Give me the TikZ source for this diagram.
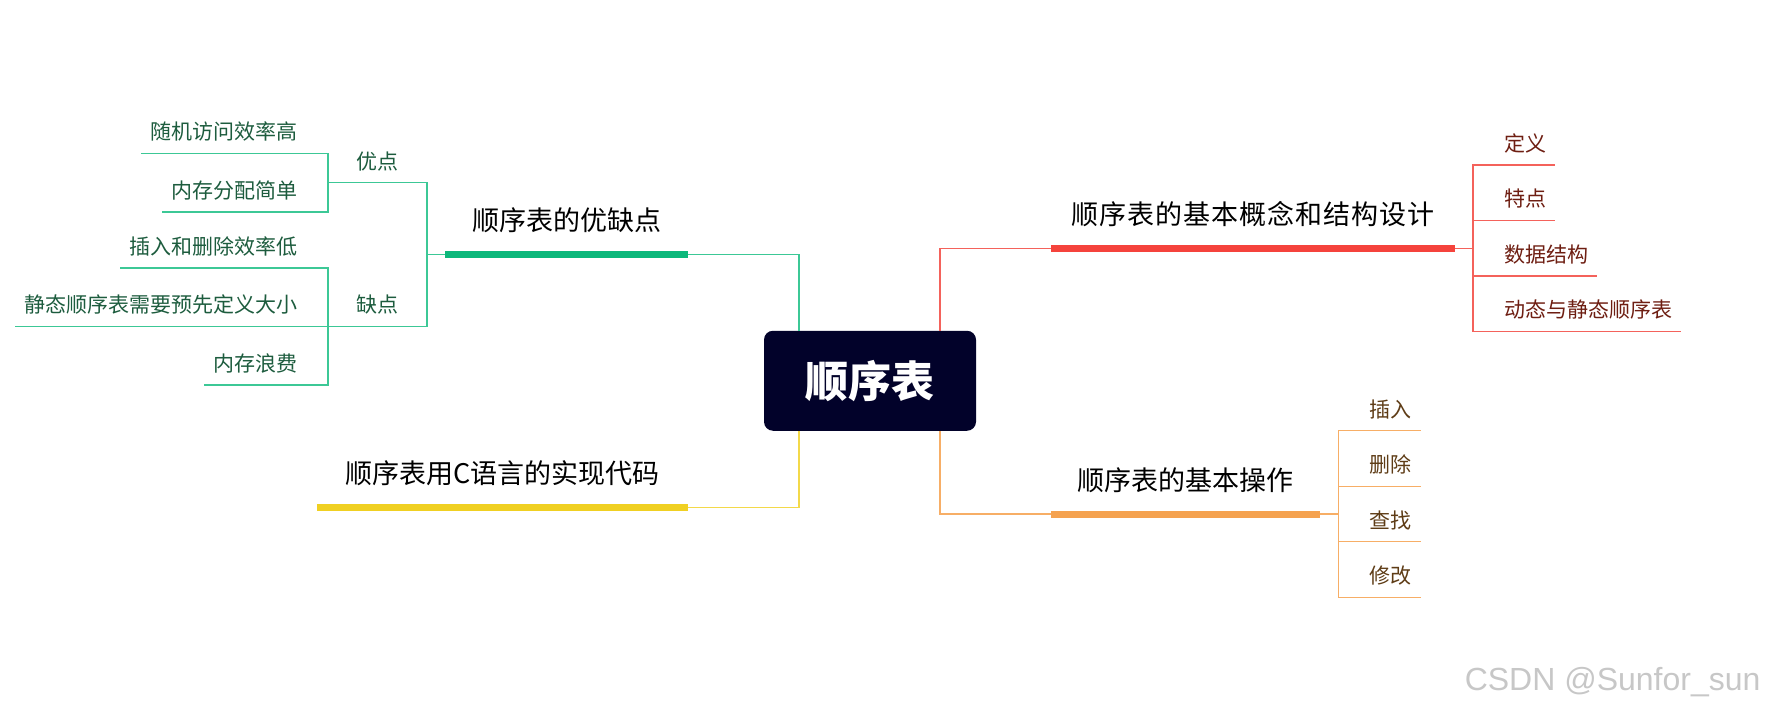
\documentclass[tikz,border=0pt]{standalone}
\usepackage{fontspec}
\setmainfont{Noto Sans CJK SC}
\newfontfamily\marcafont{Liberation Sans}
\definecolor{azul}{HTML}{02022A}
\definecolor{verde}{HTML}{0CB87B}
\definecolor{verdeclaro}{HTML}{3CC896}
\definecolor{verdetexto}{HTML}{1D5C3E}
\definecolor{rojo}{HTML}{F5433C}
\definecolor{rojoclaro}{HTML}{F4625B}
\definecolor{rojotexto}{HTML}{6E1E12}
\definecolor{naranja}{HTML}{F5A24F}
\definecolor{naranjaclaro}{HTML}{F7AE66}
\definecolor{naranjatexto}{HTML}{5E3C16}
\definecolor{amarillo}{HTML}{F0D022}
\definecolor{amarilloclaro}{HTML}{F3D94A}
\begin{document}
\begin{tikzpicture}[
  x=1pt, y=-1pt,
  raiz/.style={fill=azul, rounded corners=9pt, minimum width=212pt, minimum height=100pt,
    text=white, font=\fontsize{43}{43}\selectfont\bfseries},
  rama/.style={anchor=south, inner xsep=0pt, inner ysep=20.5pt, text height=23.8pt,
    text depth=3.2pt, font=\fontsize{27}{27}\selectfont},
  hoja/.style={inner xsep=0pt, inner ysep=11pt, text height=18.5pt, text depth=2.5pt,
    font=\fontsize{21}{21}\selectfont},
  barra/.style={line width=7pt},
  linea/.style={line width=1.5pt}
]
\useasboundingbox (0,0) rectangle (1769,714);

% ramas
\node[rama, minimum width=242pt] (ventajas) at (566.5,254.6) {顺序表的优缺点};
\node[rama, minimum width=370.5pt] (codigo) at (502.25,507.6) {顺序表用C语言的实现代码};
\node[rama, minimum width=404pt, font=\fontsize{27}{27}\selectfont\addfontfeatures{LetterSpace=4}]
  (concepto) at (1253,248.25) {顺序表的基本概念和结构设计};
\node[rama, minimum width=269pt] (operaciones) at (1185.5,514) {顺序表的基本操作};

% optimo / defecto
\node[hoja, anchor=south, minimum width=99pt, text=verdetexto] (pros) at (377.5,182.75) {优点};
\node[hoja, anchor=south, minimum width=99pt, text=verdetexto] (contras) at (377.5,326.5) {缺点};
\draw[linea, verdeclaro] (ventajas.south west) -| (pros.south east) -- (pros.south west);
\draw[linea, verdeclaro] (ventajas.south west) -| (contras.south east) -- (contras.south west);

\foreach \nombre/\padre/\y/\texto in {p1/pros/153.5/随机访问效率高, p2/pros/212/内存分配简单,
    c1/contras/268/插入和删除效率低, c2/contras/326.5/静态顺序表需要预先定义大小,
    c3/contras/385/内存浪费} {
  \node[hoja, anchor=south east, text=verdetexto] (\nombre) at (298,\y) {\texto};
  \draw[linea, verdeclaro] (\padre.south west) |- (\nombre.south east)
    -- ([xshift=-9.5pt]\nombre.south west);
}

\foreach \nombre/\y/\texto in {d1/165/定义, d2/220.5/特点, d3/276/数据结构, d4/331.5/动态与静态顺序表} {
  \node[hoja, anchor=south west, text=rojotexto] (\nombre) at (1504,\y) {\texto};
  \draw[linea, rojoclaro] (concepto.south east) -| ([xshift=-31pt]\nombre.south west)
    -- ([xshift=9pt]\nombre.south east);
}

\foreach \nombre/\y/\texto in {o1/430.7/插入, o2/486.3/删除, o3/541.7/查找, o4/597.3/修改} {
  \node[hoja, anchor=south west, text=naranjatexto] (\nombre) at (1369.5,\y) {\texto};
  \draw[linea, naranjaclaro] (operaciones.south east) -| ([xshift=-31pt]\nombre.south west)
    -- ([xshift=9pt]\nombre.south east);
}

% centro
\node[raiz] (raiz) at (870,380.75) {顺序表};
\draw[linea, verdeclaro] ([xshift=35pt]raiz.north west) |- (ventajas.south east);
\draw[linea, amarilloclaro] ([xshift=35pt]raiz.south west) |- (codigo.south east);
\draw[linea, rojoclaro] ([xshift=-36pt]raiz.north east) |- (concepto.south west);
\draw[linea, naranjaclaro] ([xshift=-36pt]raiz.south east) |- (operaciones.south west);

\draw[barra, verde] (ventajas.south west) -- (ventajas.south east);
\draw[barra, amarillo] (codigo.south west) -- (codigo.south east);
\draw[barra, rojo] (concepto.south west) -- (concepto.south east);
\draw[barra, naranja] (operaciones.south west) -- (operaciones.south east);

\node[anchor=east, text=black!22, font=\marcafont\fontsize{32}{32}\selectfont] (marca)
  at (1764,682) {CSDN @Sunfor\_sun};
\end{tikzpicture}
\end{document}
